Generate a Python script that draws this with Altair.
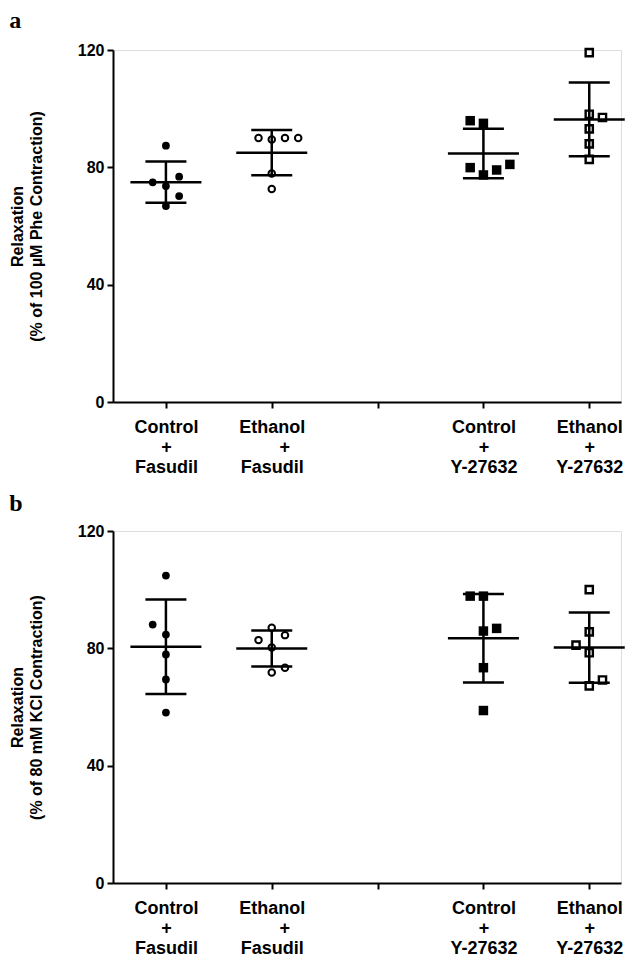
import json
import altair as alt
import pandas as pd

# ---------------- data ----------------
GROUP_POS = [1, 2, 4, 5]
TICK_VALUES = [1, 2, 3, 4, 5]
TICK_LABELS = [
    ["Control", "+", "Fasudil"],
    ["Ethanol", "\u200b\u00a0\u00a0\u00a0\u00a0\u00a0+", "Fasudil"],
    [""],
    ["Control", "+", "Y-27632"],
    ["Ethanol", "+", "Y-27632"],
]

# panel a: relaxation (% of 100 uM Phe contraction)
A_CTRL_FAS = [87.4, 74.9, 76.8, 73.6, 70.2, 66.8]
A_ETH_FAS = [90.0, 89.5, 90.0, 90.0, 77.9, 72.6]
A_CTRL_Y = [95.9, 95.0, 79.9, 79.1, 81.0, 77.4]
A_ETH_Y = [119.1, 98.1, 97.0, 93.1, 88.0, 82.7]
A_SLOTS = [
    [0, -1, 1, 0, 1, 0],
    [-1, 0, 1, 2, 0, 0],
    [-1, 0, -1, 1, 2, 0],
    [0, 0, 1, 0, 0, 0],
]

# panel b: relaxation (% of 80 mM KCl contraction)
B_CTRL_FAS = [104.8, 88.1, 84.7, 77.9, 69.4, 58.1]
B_ETH_FAS = [87.0, 82.8, 84.5, 80.3, 71.8, 73.4]
B_CTRL_Y = [97.8, 97.8, 86.8, 85.9, 73.4, 58.8]
B_ETH_Y = [100.0, 85.6, 81.1, 78.5, 67.2, 69.2]
B_SLOTS = [
    [0, -1, 0, 0, 0, 0],
    [0, -1, 1, 0, 0, 1],
    [-1, 0, 1, 0, 0, 0],
    [0, 0, -1, 0, 0, 1],
]

Y_TITLE_A = ["Relaxation", "(% of 100 \u00b5M Phe Contraction)"]
Y_TITLE_B = ["Relaxation", "(% of 80 mM KCl Contraction)"]

# ---------------- styling ----------------
JIT = 0.125
SANS = "Liberation Sans"
SERIF = "Liberation Serif"
W, H = 508, 352

label_expr = ""
for v, lab in zip(TICK_VALUES, TICK_LABELS):
    label_expr += f"datum.value == {v} ? {json.dumps(lab, ensure_ascii=False)} : "
label_expr += "''"

x_scale = alt.Scale(domain=[0.5, 5.3], nice=False, zero=False)
y_scale = alt.Scale(domain=[0, 120], nice=False, zero=True)

x_axis = alt.Axis(
    values=TICK_VALUES, labelExpr=label_expr, title=None, grid=False,
    labelOverlap=False, labelFlush=False, labelBound=False,
    labelFont=SANS, labelFontSize=18, labelFontWeight="bold", labelColor="black",
    labelLineHeight=20, labelPadding=10, labelAlign="center",
    domainColor="black", domainWidth=2, tickColor="black", tickWidth=2, tickSize=6,
)


def y_axis(title):
    return alt.Axis(
        values=[0, 40, 80, 120], title=title, grid=False,
        labelFont=SANS, labelFontSize=16, labelFontWeight="bold", labelColor="black",
        labelPadding=3,
        titleFont=SANS, titleFontSize=16, titleFontWeight="bold", titleColor="black",
        titleLineHeight=19, titlePadding=33,
        domainColor="black", domainWidth=2, tickColor="black", tickWidth=2, tickSize=6,
    )


STYLES = [
    dict(shape="circle", filled=True, size=60, strokeWidth=0),
    dict(shape="circle", filled=False, size=42, strokeWidth=2),
    dict(shape="square", filled=True, size=90, strokeWidth=0),
    dict(shape="square", filled=False, size=52, strokeWidth=2.4),
]


def panel(series, slots, ytitle, letter, title_offset):
    rows = []
    for pos, vals, sl in zip(GROUP_POS, series, slots):
        for v, s in zip(vals, sl):
            rows.append({"pos": pos, "slot": s, "value": v})
    df = pd.DataFrame(rows)
    yax = y_axis(ytitle)

    layers = []
    for pos, st in zip(GROUP_POS, STYLES):
        layers.append(
            alt.Chart(df)
            .transform_filter(f"datum.pos == {pos}")
            .transform_calculate(xj=f"datum.pos + datum.slot * {JIT}")
            .mark_point(color="black", opacity=1, **st)
            .encode(
                x=alt.X("xj:Q", scale=x_scale, axis=x_axis),
                y=alt.Y("value:Q", scale=y_scale, axis=yax),
            )
        )

    stats = (
        alt.Chart(df)
        .transform_aggregate(m="mean(value)", sd="stdev(value)", groupby=["pos"])
        .transform_calculate(lo="datum.m - datum.sd", hi="datum.m + datum.sd")
    )
    layers.append(
        stats.mark_rule(color="black", strokeWidth=2.5).encode(
            x=alt.X("pos:Q", scale=x_scale, axis=x_axis),
            y=alt.Y("lo:Q", scale=y_scale, axis=yax),
            y2="hi:Q",
        )
    )
    for field, size in [("m", 71), ("lo", 41), ("hi", 41)]:
        layers.append(
            stats.mark_tick(color="black", orient="horizontal", size=size, thickness=2.5, opacity=1).encode(
                x=alt.X("pos:Q", scale=x_scale, axis=x_axis),
                y=alt.Y(f"{field}:Q", scale=y_scale, axis=yax),
            )
        )

    return alt.layer(*layers).properties(
        width=W, height=H,
        title=alt.TitleParams(
            text=letter, anchor="start", frame="bounds", font=SERIF, fontSize=24,
            fontWeight="bold", color="black", offset=title_offset,
        ),
    )


pa = panel([A_CTRL_FAS, A_ETH_FAS, A_CTRL_Y, A_ETH_Y], A_SLOTS, Y_TITLE_A, "a", 9)
pb = panel([B_CTRL_FAS, B_ETH_FAS, B_CTRL_Y, B_ETH_Y], B_SLOTS, Y_TITLE_B, "b", 7)

chart = (
    alt.vconcat(pa, pb, spacing=14)
    .properties(padding=0)
    .configure_view(stroke=None)
    .configure(background="white")
)

chart.save("out.html", embed_options={"renderer": "svg", "actions": False})
